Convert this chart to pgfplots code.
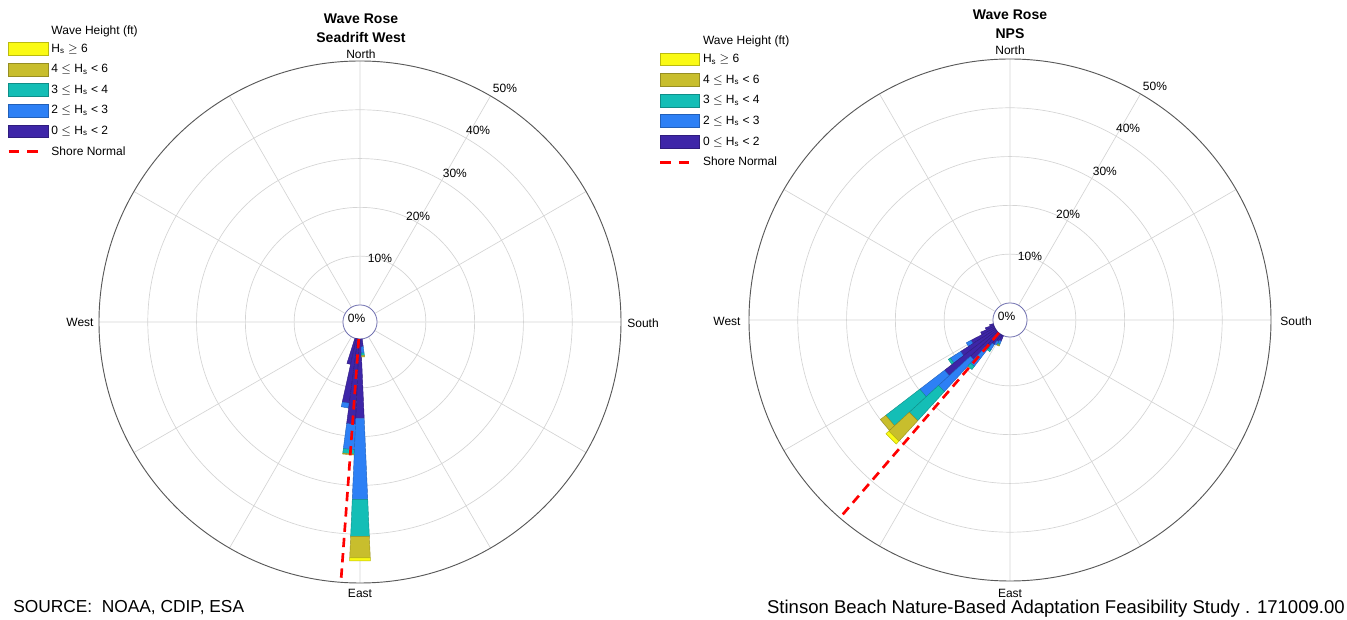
\documentclass[border=0pt]{standalone}
\usepackage{fontspec}
\setmainfont{Liberation Sans}
\usepackage{pgfplots}
\pgfplotsset{compat=1.18}
\usepgfplotslibrary{polar}

\definecolor{cY}{RGB}{250,250,20}
\definecolor{cO}{RGB}{200,190,45}
\definecolor{cT}{RGB}{20,190,182}
\definecolor{cB}{RGB}{45,128,245}
\definecolor{cD}{RGB}{62,38,168}
\definecolor{gridc}{RGB}{212,212,212}
\definecolor{zeroc}{RGB}{110,110,175}

% one stacked segment of a rose bar: angle, r1 (%), r2 (%), colour
\newcommand\seg[4]{%
 \pgfmathsetmacro\aL{#1-2.5}\pgfmathsetmacro\aR{#1+2.5}%
 \edef\segtmp{\noexpand\addplot[forget plot, fill=#4, draw=#4!75!black, line width=0.3pt] coordinates {(\aL,#2) (\aR,#2) (\aR,#3) (\aL,#3)} --cycle;}%
 \segtmp}

\pgfplotsset{
  rose/.style={scale only axis, width=391.5pt, height=391.5pt, anchor=center,
   ymin=0, ymax=53.5, xtick={0,30,...,330}, ytick={13.5,23.5,33.5,43.5},
   xticklabels={}, yticklabels={}, major tick length=0pt,
   grid=major, major grid style={draw=gridc, line width=0.5pt},
   separate axis lines,
   x axis line style={draw=black!65, line width=0.7pt},
   y axis line style={draw=none},
   clip=false,
   y filter/.expression={y+3.5},
   legend cell align=left,
   legend style={draw=none, fill=none, font=\fontsize{9}{10}\selectfont, anchor=north west,
     row sep=4.45pt, nodes={inner sep=1pt, text height=7pt, text depth=2pt},
     /tikz/every odd column/.append style={column sep=1.5pt}}
  },
  swatch/.style={legend image code/.code={\draw[##1] (0pt,-4.8pt) rectangle (29.5pt,4.8pt);}},
  shoreleg/.style={legend image code/.code={\draw[##1] (0pt,0pt) -- (24pt,0pt);}},
}

\newcommand\ringlabels{%
  \node[font=\fontsize{9}{10}\selectfont, xshift=-2.5pt, yshift=3pt] at (axis cs:0,0) {0\%};
  \node[font=\fontsize{9}{10}\selectfont] at (axis cs:72.6,13.7) {10\%};
  \node[font=\fontsize{9}{10}\selectfont] at (axis cs:61.3,24.8) {20\%};
  \node[font=\fontsize{9}{10}\selectfont] at (axis cs:57.5,36.2) {30\%};
  \node[font=\fontsize{9}{10}\selectfont] at (axis cs:58.4,46.2) {40\%};
  \node[font=\fontsize{9}{10}\selectfont] at (axis cs:58.2,56.4) {50\%};
}
\newcommand\legendentries{%
  \addlegendimage{empty legend}\addlegendentry[text height=10pt, text depth=0pt]{Wave Height (ft)}
  \addlegendimage{swatch, fill=cY, draw=cY!75!black}\addlegendentry{H\textsubscript{s} $\geq$ 6}
  \addlegendimage{swatch, fill=cO, draw=cO!75!black}\addlegendentry{4 $\leq$ H\textsubscript{s} {<} 6}
  \addlegendimage{swatch, fill=cT, draw=cT!75!black}\addlegendentry{3 $\leq$ H\textsubscript{s} {<} 4}
  \addlegendimage{swatch, fill=cB, draw=cB!75!black}\addlegendentry{2 $\leq$ H\textsubscript{s} {<} 3}
  \addlegendimage{swatch, fill=cD, draw=cD!75!black}\addlegendentry{0 $\leq$ H\textsubscript{s} {<} 2}
  \addlegendimage{shoreleg, red, line width=2pt, dash pattern=on 8pt off 6pt}\addlegendentry{Shore Normal}
}

\begin{document}
\begin{tikzpicture}
\useasboundingbox (0,0) rectangle (1010.25pt,465pt);

% ---------------- Left rose: Seadrift West ----------------
\begin{polaraxis}[rose, at={(270pt,223.5pt)},
  legend style={at={(-0.184,1.085)}}]
  \legendentries
  \fill[white, draw=zeroc, line width=0.6pt] (axis cs:0,0) circle[radius=12.8pt];
  % angle 255
  \seg{255}{0}{5.4}{cD}
  % angle 260
  \seg{260}{0}{13.3}{cD}
  \seg{260}{13.3}{14.3}{cB}
  % angle 265
  \seg{265}{0}{17.5}{cD}
  \seg{265}{17.5}{22.7}{cB}
  \seg{265}{22.7}{23.6}{cT}
  \seg{265}{23.6}{23.8}{cO}
  % angle 270
  \seg{270}{0}{16.3}{cD}
  \seg{270}{16.3}{32.9}{cB}
  \seg{270}{32.9}{40.5}{cT}
  \seg{270}{40.5}{44.9}{cO}
  \seg{270}{44.9}{45.5}{cY}
  % angle 275
  \seg{275}{0}{1.6}{cD}
  \seg{275}{1.6}{2.9}{cB}
  \seg{275}{2.9}{3.4}{cT}
  \seg{275}{3.4}{3.7}{cO}
  % shore normal
  \addplot[forget plot, red, line width=2pt, dash pattern=on 7pt off 4.5pt] coordinates {(265.8,0) (265.8,50)};
  \ringlabels
\end{polaraxis}

% ---------------- Right rose: NPS ----------------
\begin{polaraxis}[rose, at={(757.5pt,225pt)},
  legend style={at={(-0.181,1.061)}}]
  \legendentries
  \fill[white, draw=zeroc, line width=0.6pt] (axis cs:0,0) circle[radius=12.8pt];
  \seg{195}{0}{0.8}{cD}
  \seg{200}{0}{1.8}{cD}
  \seg{205}{0}{3.0}{cD}
  \seg{210}{0}{5.5}{cD}
  \seg{210}{5.5}{6.6}{cB}
  \seg{215}{0}{8.5}{cD}
  \seg{215}{8.5}{11.0}{cB}
  \seg{215}{11.0}{11.5}{cT}
  \seg{220}{0}{13.4}{cD}
  \seg{220}{13.4}{19.8}{cB}
  \seg{220}{19.8}{28.6}{cT}
  \seg{220}{28.6}{30.0}{cO}
  \seg{225}{0}{7.5}{cD}
  \seg{225}{7.5}{16.4}{cB}
  \seg{225}{16.4}{24.5}{cT}
  \seg{225}{24.5}{30.2}{cO}
  \seg{225}{30.2}{31.0}{cY}
  \seg{230}{0}{4.0}{cD}
  \seg{230}{4.0}{8.5}{cB}
  \seg{230}{8.5}{9.3}{cT}
  \seg{235}{0}{2.5}{cD}
  \seg{235}{2.5}{3.8}{cB}
  \seg{235}{3.8}{4.2}{cT}
  \seg{240}{0}{1.5}{cD}
  \seg{240}{1.5}{2.3}{cB}
  \seg{245}{0}{1.2}{cD}
  \seg{245}{1.2}{1.8}{cB}
  \seg{245}{1.8}{2.1}{cT}
  \seg{245}{2.1}{2.3}{cO}
  \addplot[forget plot, red, line width=2pt, dash pattern=on 7pt off 4.5pt] coordinates {(229.3,0) (229.3,50)};
  \ringlabels
\end{polaraxis}

% compass labels
\begin{scope}[font=\fontsize{9}{10}\selectfont]
  \node at (270.75pt,424.5pt) {North};
  \node at (60pt,223.5pt) {West};
  \node at (482.25pt,222.75pt) {South};
  \node at (270pt,20.25pt) {East};
  \node at (757.5pt,427.5pt) {North};
  \node at (545.25pt,224.25pt) {West};
  \node at (972pt,224.25pt) {South};
  \node at (757.5pt,20.25pt) {East};
\end{scope}
% titles
\begin{scope}[font=\fontsize{10.5}{12}\selectfont\bfseries]
  \node at (270.75pt,450.75pt) {Wave Rose};
  \node at (270.75pt,436.5pt) {Seadrift West};
  \node at (757.5pt,453.75pt) {Wave Rose};
  \node at (757.5pt,439.5pt) {NPS};
\end{scope}
% footer
\node[anchor=west, font=\fontsize{13}{15}\selectfont, inner sep=0pt] at (9.75pt,9pt) {SOURCE:\ \ NOAA, CDIP, ESA};
\node[anchor=east, font=\fontsize{13.9}{15}\selectfont, inner sep=0pt] at (1008.75pt,8.25pt) {Stinson Beach Nature-Based Adaptation Feasibility Study . 171009.00};
\end{tikzpicture}
\end{document}
